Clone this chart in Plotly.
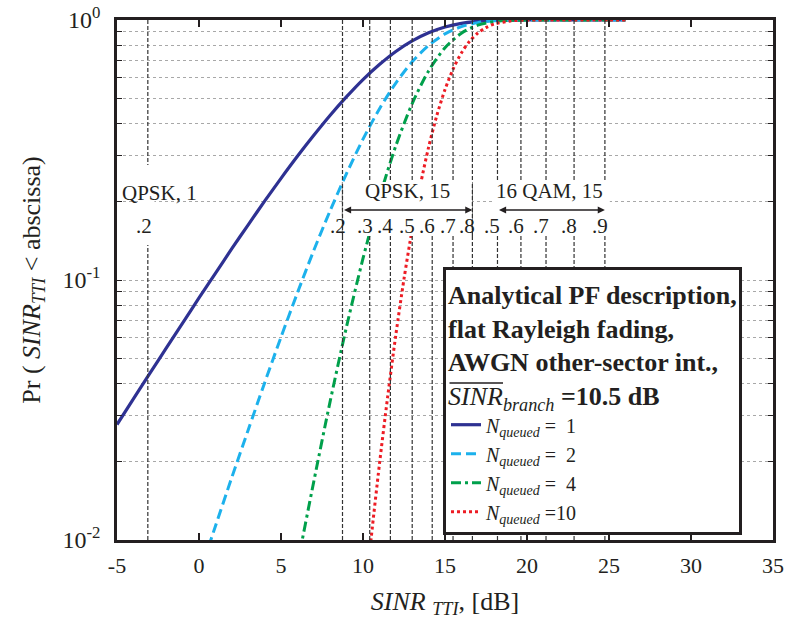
import math
import plotly.graph_objects as go

# ---------------- data ----------------
sinr_db_n1 = list(range(-5, 27))
pr_n1 = [0.0278, 0.0349, 0.0437, 0.0547, 0.0683, 0.0853, 0.106, 0.132, 0.163, 0.201,
         0.246, 0.299, 0.360, 0.430, 0.507, 0.590, 0.674, 0.757, 0.831, 0.893,
         0.940, 0.971, 0.9885, 0.9964, 0.9992, 0.9999, 1, 1, 1, 1, 1, 1]

sinr_db_n2 = list(range(0, 27))
pr_n2 = [0.0073, 0.0113, 0.0174, 0.0265, 0.0402, 0.0603, 0.0892, 0.130, 0.185, 0.257,
         0.348, 0.455, 0.572, 0.691, 0.798, 0.884, 0.943, 0.977, 0.993, 0.998,
         0.9997, 1, 1, 1, 1, 1, 1]

sinr_db_n4 = list(range(5, 27))
pr_n4 = [0.0036, 0.0080, 0.0168, 0.0342, 0.0663, 0.121, 0.207, 0.328, 0.477, 0.637,
         0.782, 0.890, 0.955, 0.986, 0.9966, 0.9995, 1, 1, 1, 1, 1, 1]

sinr_db_n10 = [9, 10, 10.5, 11, 11.5, 12, 12.5, 13, 13.5, 14, 14.5, 15, 15.5, 16,
               16.5, 17, 17.5, 18, 19, 20, 21, 22, 23, 24, 25, 26]
pr_n10 = [0.00113, 0.0051, 0.0102, 0.0195, 0.0354, 0.0614, 0.101, 0.157, 0.232,
          0.324, 0.429, 0.540, 0.649, 0.747, 0.828, 0.891, 0.935, 0.9645, 0.9916,
          0.9987, 0.9999, 1, 1, 1, 1, 1]

series_names = ["<i>N</i><sub><i>queued</i></sub> = \u00a01",
                "<i>N</i><sub><i>queued</i></sub> = \u00a02",
                "<i>N</i><sub><i>queued</i></sub> = \u00a04",
                "<i>N</i><sub><i>queued</i></sub> =10"]

# MCS thresholds (code rates) in dB
qpsk1_db = [-3.12]
qpsk1_labels = [".2"]
qpsk15_db = [8.75, 10.41, 11.67, 13.0, 14.22, 15.49, 16.67]
qpsk15_labels = [".2", ".3", ".4", ".5", ".6", ".7", ".8"]
qam16_db = [18.2, 19.63, 21.16, 22.87, 24.75]
qam16_labels = [".5", ".6", ".7", ".8", ".9"]

x_ticks = list(range(-5, 36, 5))
x_tick_labels = ["-5", "0", "5", "10", "15", "20", "25", "30", "35"]
y_decade_labels = ["10<sup>-2</sup>", "10<sup>-1</sup>", "10<sup>0</sup>"]

# ---------------- styling ----------------
FONT = "Liberation Serif"
INK = "#231f20"
W, H = 788, 619
ML, MT, MR, MB = 117, 20, 15, 79
PW, PH = W - ML - MR, H - MT - MB


def py(px):
    """reference pixel row -> paper y"""
    return 1 - (px - MT) / PH


def pxp(px):
    """reference pixel column -> paper x"""
    return (px - ML) / PW


fig = go.Figure()

styles = [
    dict(color="#2e3192", width=3.2, dash="solid"),
    dict(color="#1cb1ec", width=3, dash="10px,5px"),
    dict(color="#00a04b", width=3, dash="10px,4px,3px,4px"),
    dict(color="#ed1c24", width=3, dash="3px,3px"),
]
for xs, ys, name, st in zip([sinr_db_n1, sinr_db_n2, sinr_db_n4, sinr_db_n10],
                            [pr_n1, pr_n2, pr_n4, pr_n10], series_names, styles):
    fig.add_trace(go.Scatter(x=xs, y=ys, mode="lines", name=name,
                             line=dict(shape="spline", smoothing=0.8, **st)))

shapes = []
vline = dict(color="#333333", width=1.2, dash="4px,2px")
for xv in qpsk1_db + qpsk15_db + qam16_db:
    shapes.append(dict(type="line", xref="x", yref="paper", x0=xv, x1=xv, y0=0, y1=1,
                       line=vline, layer="above"))

# white label bands
band_top, band_bot = py(182), py(236)
white = dict(type="rect", yref="paper", fillcolor="white", line=dict(width=0), layer="above")
shapes.append(dict(white, xref="x", x0=qpsk15_db[0], x1=qpsk15_db[-1], y0=band_bot, y1=band_top))
shapes.append(dict(white, xref="x", x0=qam16_db[0] - 0.3, x1=qam16_db[-1] + 0.3, y0=band_bot, y1=band_top))
shapes.append(dict(white, xref="x", x0=qpsk1_db[0] - 0.45, x1=qpsk1_db[0] + 0.4, y0=py(245), y1=py(165)))
# edges of QPSK,15 box drawn again on top
for xv in (qpsk15_db[0], qpsk15_db[-1]):
    shapes.append(dict(type="line", xref="x", yref="paper", x0=xv, x1=xv,
                       y0=band_bot, y1=band_top, line=vline, layer="above"))

annotations = []
lab_font = dict(family=FONT, size=21, color=INK)


def txt(x, ypx, text, xshift=0):
    annotations.append(dict(x=x, y=py(ypx), xref="x", yref="paper", text=text,
                            showarrow=False, font=lab_font, xshift=xshift,
                            xanchor="center", yanchor="middle"))


txt(-2.4, 193, "QPSK, 1")
for xv, lb in zip(qpsk1_db, qpsk1_labels):
    txt(xv, 226, lb, xshift=-4)
txt(12.7, 191, "QPSK, 15")
txt(21.4, 191, "16 QAM, 15")
for xv, lb in zip(qpsk15_db + qam16_db, qpsk15_labels + qam16_labels):
    txt(xv, 226, lb, xshift=-5)

# double-headed arrows
for a, b in ((qpsk15_db[0], qpsk15_db[-1]), (qam16_db[0], qam16_db[-1])):
    annotations.append(dict(x=b, y=py(210), xref="x", yref="paper", ax=a, ay=0,
                            axref="x", ayref="pixel", text="", showarrow=True,
                            arrowhead=2, arrowside="end+start", arrowsize=1.1,
                            arrowwidth=1.3, arrowcolor=INK))

# overline (mean) over SINR in the legend title
annotations.append(dict(x=pxp(503), y=py(383), xref="paper", yref="paper",
                        ax=-55, ay=0, axref="pixel", ayref="pixel", text="",
                        showarrow=True, arrowhead=0, arrowwidth=1.5, arrowcolor=INK,
                        standoff=0, startstandoff=0))

fig.update_layout(
    width=W, height=H,
    margin=dict(l=ML, r=MR, t=MT, b=MB, autoexpand=False),
    paper_bgcolor="white", plot_bgcolor="white",
    font=dict(family=FONT, color=INK),
    showlegend=True,
    legend=dict(
        x=pxp(443), y=py(267), xanchor="left", yanchor="top",
        bgcolor="white", bordercolor=INK, borderwidth=3,
        font=dict(family=FONT, size=20, color=INK),
        tracegroupgap=0, itemwidth=30,
        title=dict(text="<b>Analytical PF description,<br>flat Rayleigh fading,<br>"
                        "AWGN other-sector int.,<br></b><i>SINR</i><sub><i>branch</i></sub>"
                        "<b> =10.5 dB</b>",
                   font=dict(family=FONT, size=26, color=INK), side="top"),
    ),
    xaxis=dict(range=[-5, 35], tickvals=x_ticks, ticktext=x_tick_labels,
               ticks="inside", ticklen=7, ticklabelstandoff=4,
               tickwidth=1.5, tickcolor=INK, showline=True, linewidth=2.5,
               linecolor=INK, mirror="ticks", showgrid=False, zeroline=False,
               automargin=False,
               tickfont=dict(family=FONT, size=22, color=INK),
               title=dict(text="<i>SINR</i> <sub><i>TTI</i></sub>, [dB]",
                          font=dict(family=FONT, size=26, color=INK))),
    yaxis=dict(type="log", range=[-2, 0],
               tickvals=[m * d for d in (0.01, 0.1) for m in range(1, 10)] + [1],
               ticktext=[(y_decade_labels[i] if m == 1 else "") for i in range(2) for m in range(1, 10)]
                        + [y_decade_labels[2]],
               ticks="inside", ticklen=5, tickwidth=1.2, tickcolor=INK,
               ticklabelstandoff=9,
               showline=True, linewidth=2.5, linecolor=INK, mirror="ticks",
               showgrid=True, gridcolor="#a8a8a8", griddash="dot", gridwidth=1,
               zeroline=False, automargin=False,
               tickfont=dict(family=FONT, size=24, color=INK),
               title=dict(text="Pr ( <i>SINR</i><sub><i>TTI</i></sub> < abscissa)",
                          font=dict(family=FONT, size=26, color=INK))),
    shapes=shapes,
    annotations=annotations,
)

fig.write_html("out.html", config={"displayModeBar": False},
               post_script="document.body.style.margin='0px';")
